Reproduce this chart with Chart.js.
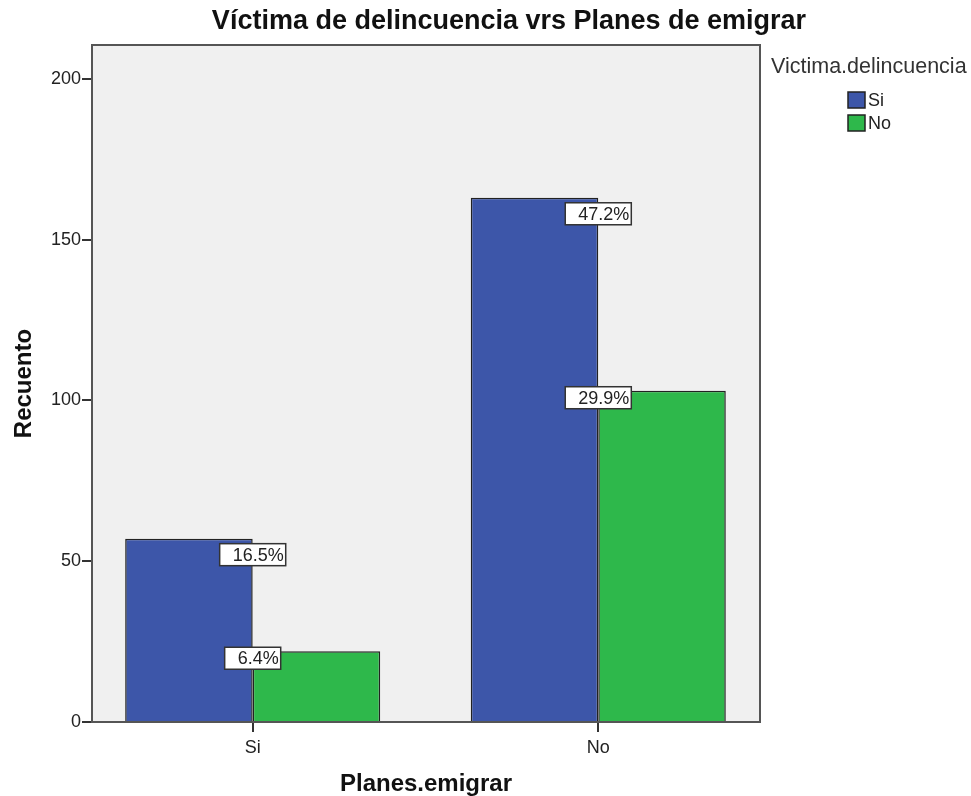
<!DOCTYPE html>
<html>
<head>
<meta charset="utf-8">
<script src="https://cdn.jsdelivr.net/npm/chart.js@4/dist/chart.umd.min.js"></script>
<style>
html,body{margin:0;padding:0;background:#fff}
</style>
</head>
<body>
<canvas id="chart" width="971" height="796"></canvas>
<script>
const categories=["Si","No"]
const legendNames=["Si","No"]
const victimaSi=[57,163]
const victimaNo=[22,103]
const pctSi=["16.5%","47.2%"]
const pctNo=["6.4%","29.9%"]
const yTicks=[0,50,100,150,200]

const FONT='"Liberation Sans", Arial, sans-serif'
const colors=["#3d56a9","#2eb84b"]

Chart.defaults.font.family=FONT

const frame={
id:"frame",
beforeDraw(c){
const a=c.chartArea,ctx=c.ctx
ctx.save()
ctx.fillStyle="#f0f0f0"
ctx.fillRect(a.left,a.top,a.right-a.left,a.bottom-a.top)
ctx.restore()
},
afterDatasetsDraw(c){
const a=c.chartArea,ctx=c.ctx
ctx.save()
// percentage boxes
const xs=c.scales.x
const pcts=[pctSi,pctNo]
const offs=[16,7]
ctx.font="18px "+FONT
ctx.textBaseline="middle"
ctx.textAlign="right"
c.data.datasets.forEach((d,i)=>{
c.getDatasetMeta(i).data.forEach((el,j)=>{
const t=pcts[i][j]
const w=ctx.measureText(t).width+15
const cx=xs.getPixelForValue(j)
const cy=el.y+offs[i]
ctx.fillStyle="#fff"
ctx.fillRect(cx-w/2,cy-11,w,22)
ctx.strokeStyle="#333"
ctx.lineWidth=1.5
ctx.strokeRect(cx-w/2,cy-11,w,22)
ctx.fillStyle="#222"
ctx.fillText(t,cx+w/2-2,cy+1)
})
})
// plot frame
ctx.strokeStyle="#555"
ctx.lineWidth=2
ctx.strokeRect(a.left,a.top,a.right-a.left,a.bottom-a.top)
// title
ctx.fillStyle="#111"
ctx.textAlign="center"
ctx.font="bold 27px "+FONT
ctx.fillText("Víctima de delincuencia vrs Planes de emigrar",509,22)
// legend
ctx.textAlign="left"
ctx.fillStyle="#333"
ctx.font="21.5px "+FONT
ctx.fillText("Victima.delincuencia",771,67)
legendNames.forEach((n,i)=>{
const y=92+i*23
ctx.fillStyle=colors[i]
ctx.fillRect(848,y,17,16)
ctx.strokeStyle="#222"
ctx.lineWidth=1.5
ctx.strokeRect(848,y,17,16)
ctx.fillStyle="#222"
ctx.font="18px "+FONT
ctx.fillText(n,868,y+9)
})
ctx.restore()
}
}

new Chart(document.getElementById("chart"),{
type:"bar",
data:{
datasets:[
{label:legendNames[0],data:categories.map((c,i)=>({x:i,y:victimaSi[i]})),backgroundColor:colors[0],borderColor:"#222",borderWidth:1.5},
{label:legendNames[1],data:categories.map((c,i)=>({x:i,y:victimaNo[i]})),backgroundColor:colors[1],borderColor:"#222",borderWidth:1.5}
]
},
options:{
responsive:false,
animation:false,
events:[],
layout:{padding:{left:0,top:45,right:211,bottom:0}},
datasets:{bar:{categoryPercentage:0.738,barPercentage:1}},
plugins:{legend:{display:false},tooltip:{enabled:false},title:{display:false}},
scales:{
x:{
type:"linear",
offset:false,
min:-0.465,max:1.468,
afterBuildTicks:s=>{s.ticks=categories.map((c,i)=>({value:i}))},
afterFit:s=>{s.height=74},
ticks:{callback:v=>categories[v],color:"#222",font:{size:18},padding:5,maxRotation:0},
grid:{offset:false,drawOnChartArea:false,tickLength:10,color:"#333",lineWidth:2},
border:{display:false},
title:{display:true,text:"Planes.emigrar",color:"#111",font:{size:24,weight:"bold"},padding:{top:0,bottom:-3}}
},
y:{
min:0,max:210.5,
afterBuildTicks:s=>{s.ticks=yTicks.map(v=>({value:v}))},
afterFit:s=>{s.width=92},
ticks:{color:"#222",font:{size:18},padding:1},
grid:{drawOnChartArea:false,tickLength:10,color:"#333",lineWidth:2},
border:{display:false},
title:{display:true,text:"Recuento",color:"#111",font:{size:24,weight:"bold"},padding:{top:10,bottom:0}}
}
}
},
plugins:[frame]
})
</script>
</body>
</html>
